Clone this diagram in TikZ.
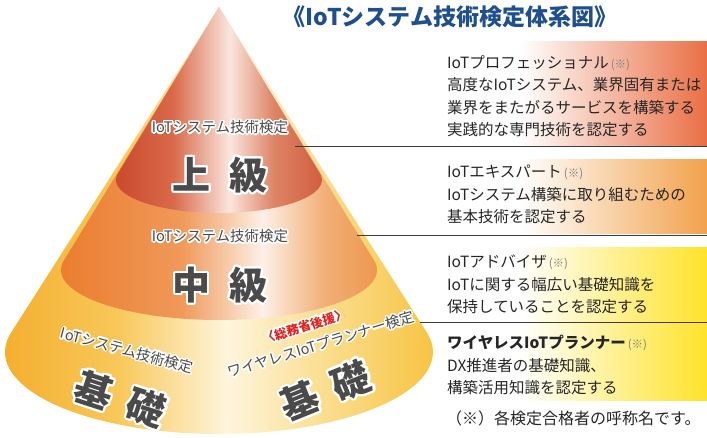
\documentclass[tikz,border=0pt]{standalone}
\usepackage{fontspec}
\usepackage{xcolor}
\usepackage{contour}
\usepackage{tikz}
\usetikzlibrary{positioning}
\setmainfont{Noto Sans CJK JP}
\contourlength{1.4pt}
\contournumber{20}
\definecolor{titleblue}{HTML}{1F4F8F}
\definecolor{textdark}{HTML}{262626}
\definecolor{labelgray}{HTML}{4A4A4A}
\definecolor{linegray}{HTML}{3C3C3C}
\definecolor{backred}{HTML}{E0201B}
\definecolor{proorange}{HTML}{E96F45}
\definecolor{expertorange}{HTML}{F2A24C}
\definecolor{basicyellow}{HTML}{FFE22A}
\definecolor{topA}{HTML}{C8452A}
\definecolor{topB}{HTML}{D9694A}
\definecolor{topC}{HTML}{FAE6DE}
\definecolor{topD}{HTML}{DD8466}
\definecolor{topE}{HTML}{D15A3C}
\definecolor{midA}{HTML}{EA7A2A}
\definecolor{midB}{HTML}{F0995A}
\definecolor{midC}{HTML}{FDF0E6}
\definecolor{midD}{HTML}{F2B07A}
\definecolor{midE}{HTML}{EE9448}
\definecolor{baseA}{HTML}{F4AA28}
\definecolor{baseB}{HTML}{F8C85A}
\definecolor{baseC}{HTML}{FEF5DC}
\definecolor{baseD}{HTML}{FADB86}
\definecolor{baseE}{HTML}{F7C443}
\pgfdeclarehorizontalshading{topband}{100bp}{color(0bp)=(topA); color(25bp)=(topA); color(40bp)=(topB); color(53bp)=(topC); color(63bp)=(topD); color(75bp)=(topE); color(100bp)=(topE)}
\pgfdeclarehorizontalshading{midband}{100bp}{color(0bp)=(midA); color(25bp)=(midA); color(45bp)=(midB); color(57bp)=(midC); color(66bp)=(midD); color(75bp)=(midE); color(100bp)=(midE)}
\pgfdeclarehorizontalshading{baseband}{100bp}{color(0bp)=(baseA); color(25bp)=(baseA); color(40bp)=(baseB); color(52bp)=(baseC); color(64bp)=(baseD); color(75bp)=(baseE); color(100bp)=(baseE)}
\newcommand{\glow}[1]{\contour{white}{#1}}
\newcommand{\note}{{\fontsize{11.5}{11.5}\selectfont\color{gray}\,(※)}}
\newcommand{\conepart}[4]{% center y, x radius, y radius, shading
  \pgfmathsetmacro{\tilt}{asin(#3/(430-#1))}%
  \shade[shading=#4] (apex) -- ({219-#2*cos(\tilt)},{#1+#3*sin(\tilt)})
    arc[start angle=180-\tilt, end angle=360+\tilt, x radius=#2pt, y radius=#3pt] -- cycle;}
\tikzset{
  stage/.style={inner sep=1pt, text=labelgray, font=\fontsize{14.5}{14.5}\selectfont},
  level/.style={inner sep=1pt, text=labelgray, font=\contourlength{2.2pt}\bfseries\fontsize{38}{38}\selectfont},
  info/.style={anchor=north west, align=left, inner sep=0pt, text=textdark,
    font=\fontsize{15.5}{22.5}\selectfont},
  leader/.style={draw=linegray, line width=0.8pt},
  infoband/.style={left color=white, right color=#1}
}
\begin{document}
\begin{tikzpicture}[x=1pt,y=1pt]
  \useasboundingbox (0,0) rectangle (707,437);
  \fill[white] (0,0) rectangle (707,437);
  % bands behind the texts
  \shade[infoband=proorange] (520,291) rectangle (707,395);
  \shade[infoband=expertorange] (520,203) rectangle (707,277);
  \shade[infoband=basicyellow] (520,116) rectangle (707,189);
  \shade[infoband=basicyellow] (520,37) rectangle (707,114);
  % the cone
  \coordinate (apex) at (219,430);
  \conepart{85}{214}{82}{baseband}
  \conepart{167}{158}{50}{midband}
  \conepart{257}{103}{33}{topband}
  \node (title) at (450,420) {\bfseries\color{titleblue}\fontsize{23}{23}\selectfont 《IoTシステム技術検定体系図》};
  \node[stage] (topsub) at (220,309) {\glow{IoTシステム技術検定}};
  \node[level] (topbig) [below=19pt of topsub] {\glow{上\hspace{.5em}級}};
  \node[stage] (midsub) at (220,200) {\glow{IoTシステム技術検定}};
  \node[level] (midbig) [below=20pt of midsub] {\glow{中\hspace{.5em}級}};
  \node[stage, rotate=-15] (basesub) at (127,86) {\glow{IoTシステム技術検定}};
  \node[level, rotate=-18] (basebig) at (120,37) {\glow{基\hspace{.45em}礎}};
  \node[stage, rotate=17, text=backred, font=\bfseries\fontsize{12.5}{12.5}\selectfont] (mic) at (305,110) {\glow{〈総務省後援〉}};
  \node[stage, rotate=17] (wlsub) at (321,92) {\glow{ワイヤレスIoTプランナー検定}};
  \node[level, rotate=22] (wlbig) at (326,45) {\glow{基\hspace{.45em}礎}};
  % descriptions
  \node[info] (pro) at (447,382) {IoTプロフェッショナル\note\\高度なIoTシステム、業界固有または\\業界をまたがるサービスを構築する\\実践的な専門技術を認定する};
  \node[info] (expert) at (447,272) {IoTエキスパート\note\\IoTシステム構築に取り組むための\\基本技術を認定する};
  \node[info] (advisor) at (447,182) {IoTアドバイザ\note\\IoTに関する幅広い基礎知識を\\保持していることを認定する};
  \node[info] (planner) at (447,102) {\bfseries ワイヤレスIoTプランナー\mdseries\note\\DX推進者の基礎知識、\\構築活用知識を認定する};
  \node[anchor=west, inner sep=0pt, text=textdark, font=\fontsize{16}{16}\selectfont] (footnote) at (446,19) {（※）各検定合格者の呼称名です。};
  % leader lines
  \coordinate (proleft) at (295,291);
  \coordinate (proright) at (707,291);
  \coordinate (expertleft) at (357,202);
  \coordinate (expertright) at (707,202);
  \coordinate (basicleft) at (420,115);
  \coordinate (basicright) at (707,115);
  \draw[leader] (proleft) -- (proright);
  \draw[leader] (expertleft) -- (expertright);
  \draw[leader] (basicleft) -- (basicright);
\end{tikzpicture}
\end{document}
